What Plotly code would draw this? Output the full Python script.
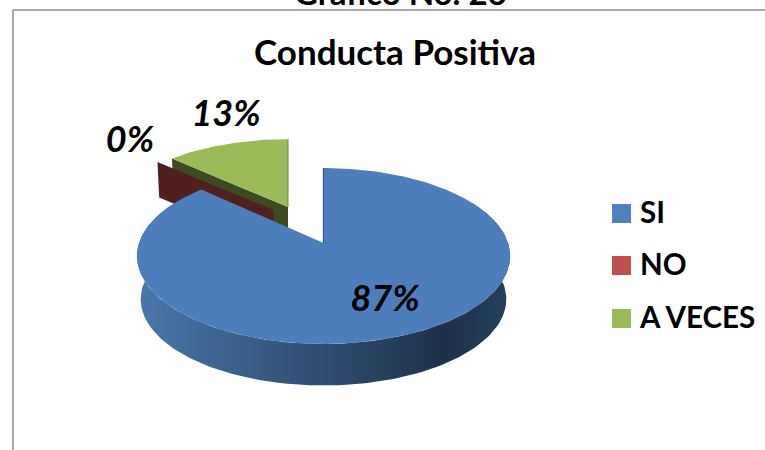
import numpy as np
import plotly.graph_objects as go

categories = ["SI", "NO", "A VECES"]
values = [87, 0, 13]
percent_labels = ["87%", "0%", "13%"]
title = "Conducta Positiva"
caption = "Gráfico No. 26"

top_colors = ["#4C7EBB", "#C0504D", "#9BBB59"]
key_colors = ["#4F81BD", "#C0504D", "#9BBB59"]
wall_colors = ["#1D3049", "#4F201E", "#3E4A22"]
apexes = [(323.5, 243), (273.5, 210), (288, 207)]
scales = [(1.0, 1.0), (0.95, 0.9), (0.95, 0.905)]
depths = [43.5, 35, 35]
label_pos = [(385, 302), (130, 143), (226, 117)]
key_y = [213.5, 265.5, 318.5]
key_text_y = [215.5, 267.5, 320.5]

RX, RY, K = 184.5, 86.0, 0.1477
FONT = "Lato"


def rim(theta_deg, apex, scale, shrink=1.0, drop=0.0):
    t = np.radians(theta_deg)
    w = 1 + K * np.cos(t)
    x = apex[0] + shrink * scale[0] * RX * np.sin(t) / w
    y = apex[1] + drop - shrink * scale[1] * RY * np.cos(t) / w
    return x, y


cum = np.cumsum([0] + values) / sum(values) * 360
fig = go.Figure()


def poly(xs, ys, color, **kw):
    fig.add_trace(go.Scatter(x=xs, y=ys, mode="lines", fill="toself", fillcolor=color,
                             line=dict(width=0), hoverinfo="skip", showlegend=False, **kw))


# back slices first: A VECES, then NO, then SI
for i in [2, 1]:
    a, s, d = apexes[i], scales[i], depths[i]
    rx0, ry0 = rim(cum[i], a, s)
    bx0, by0 = rim(cum[i], a, s, 0.985, d)
    poly([a[0], rx0, bx0, a[0]], [a[1], ry0, by0, a[1] + d], wall_colors[i])
    if values[i] > 0:
        th = np.linspace(cum[i], cum[i + 1], 60)
        x, y = rim(th, a, s)
        poly(np.r_[a[0], x], np.r_[a[1], y], top_colors[i])
        ex, ey = rim(cum[i + 1], a, s)
        fig.add_trace(go.Scatter(x=[a[0], ex], y=[a[1], ey], mode="lines",
                                 line=dict(color="#6F8A3E", width=1),
                                 hoverinfo="skip", showlegend=False))

# SI: outer wall with horizontal shading, then cut line and top face
a, s, d = apexes[0], scales[0], depths[0]
th = np.linspace(60, 300, 160)
tx, ty = rim(th, a, s)
bx, by = rim(th, a, s, 0.98, d)
fig.add_trace(go.Scatter(
    x=np.r_[tx, bx[::-1]], y=np.r_[ty, by[::-1]], mode="lines", fill="toself",
    line=dict(width=0), hoverinfo="skip", showlegend=False,
    fillgradient=dict(type="horizontal", colorscale=[
        [0.0, "#4A78AB"], [0.28, "#3A5F88"], [0.55, "#2C4A6B"],
        [0.82, "#1D3049"], [1.0, "#24405F"]])))
ex, ey = rim(0, a, s)
fig.add_trace(go.Scatter(x=[a[0], ex], y=[a[1], ey], mode="lines",
                         line=dict(color="#1D3049", width=1.2),
                         hoverinfo="skip", showlegend=False))
th = np.linspace(cum[0], cum[1], 300)
x, y = rim(th, a, s)
poly(np.r_[a[0], x], np.r_[a[1], y], top_colors[0])

# percentage labels
fig.add_trace(go.Scatter(
    x=[p[0] for p in label_pos], y=[p[1] for p in label_pos], mode="text", text=percent_labels,
    textposition="middle center",
    textfont=dict(family=FONT, size=36, color="#000000", weight="bold", style="italic"),
    hoverinfo="skip", showlegend=False))

# key
fig.add_trace(go.Scatter(
    x=[621.5] * 3, y=key_y, mode="markers",
    marker=dict(symbol="square", size=19, color=key_colors, line=dict(width=0)),
    hoverinfo="skip", showlegend=False))
fig.add_trace(go.Scatter(
    x=[640] * 3, y=key_text_y, mode="text", text=categories, textposition="middle right",
    textfont=dict(family=FONT, size=29.5, color="#000000", weight="bold"),
    hoverinfo="skip", showlegend=False))

fig.add_annotation(text=title, x=395, y=51, xref="x", yref="y", showarrow=False,
                   font=dict(family=FONT, size=35, color="#000000", weight="bold"))
fig.add_annotation(text=caption, x=400, xref="x", y=1, yref="paper", yanchor="bottom", yshift=-14,
                   showarrow=False, font=dict(family=FONT, size=33, color="#000000", weight="bold"))

# chart frame
fig.add_shape(type="line", x0=13, x1=765, y0=10, y1=10, line=dict(color="#8C8C8C", width=1.5))
fig.add_shape(type="line", x0=13, x1=13, y0=10, y1=450, line=dict(color="#8C8C8C", width=1.5))

fig.update_layout(
    width=765, height=450, margin=dict(l=0, r=0, t=0, b=0),
    paper_bgcolor="white", plot_bgcolor="white", showlegend=False,
    xaxis=dict(range=[0, 765], visible=False, fixedrange=True),
    yaxis=dict(range=[450, 0], visible=False, fixedrange=True),
)
fig.write_html("out.html", config=dict(displayModeBar=False),
               post_script="document.body.style.margin='0';document.documentElement.style.overflow='hidden';")
